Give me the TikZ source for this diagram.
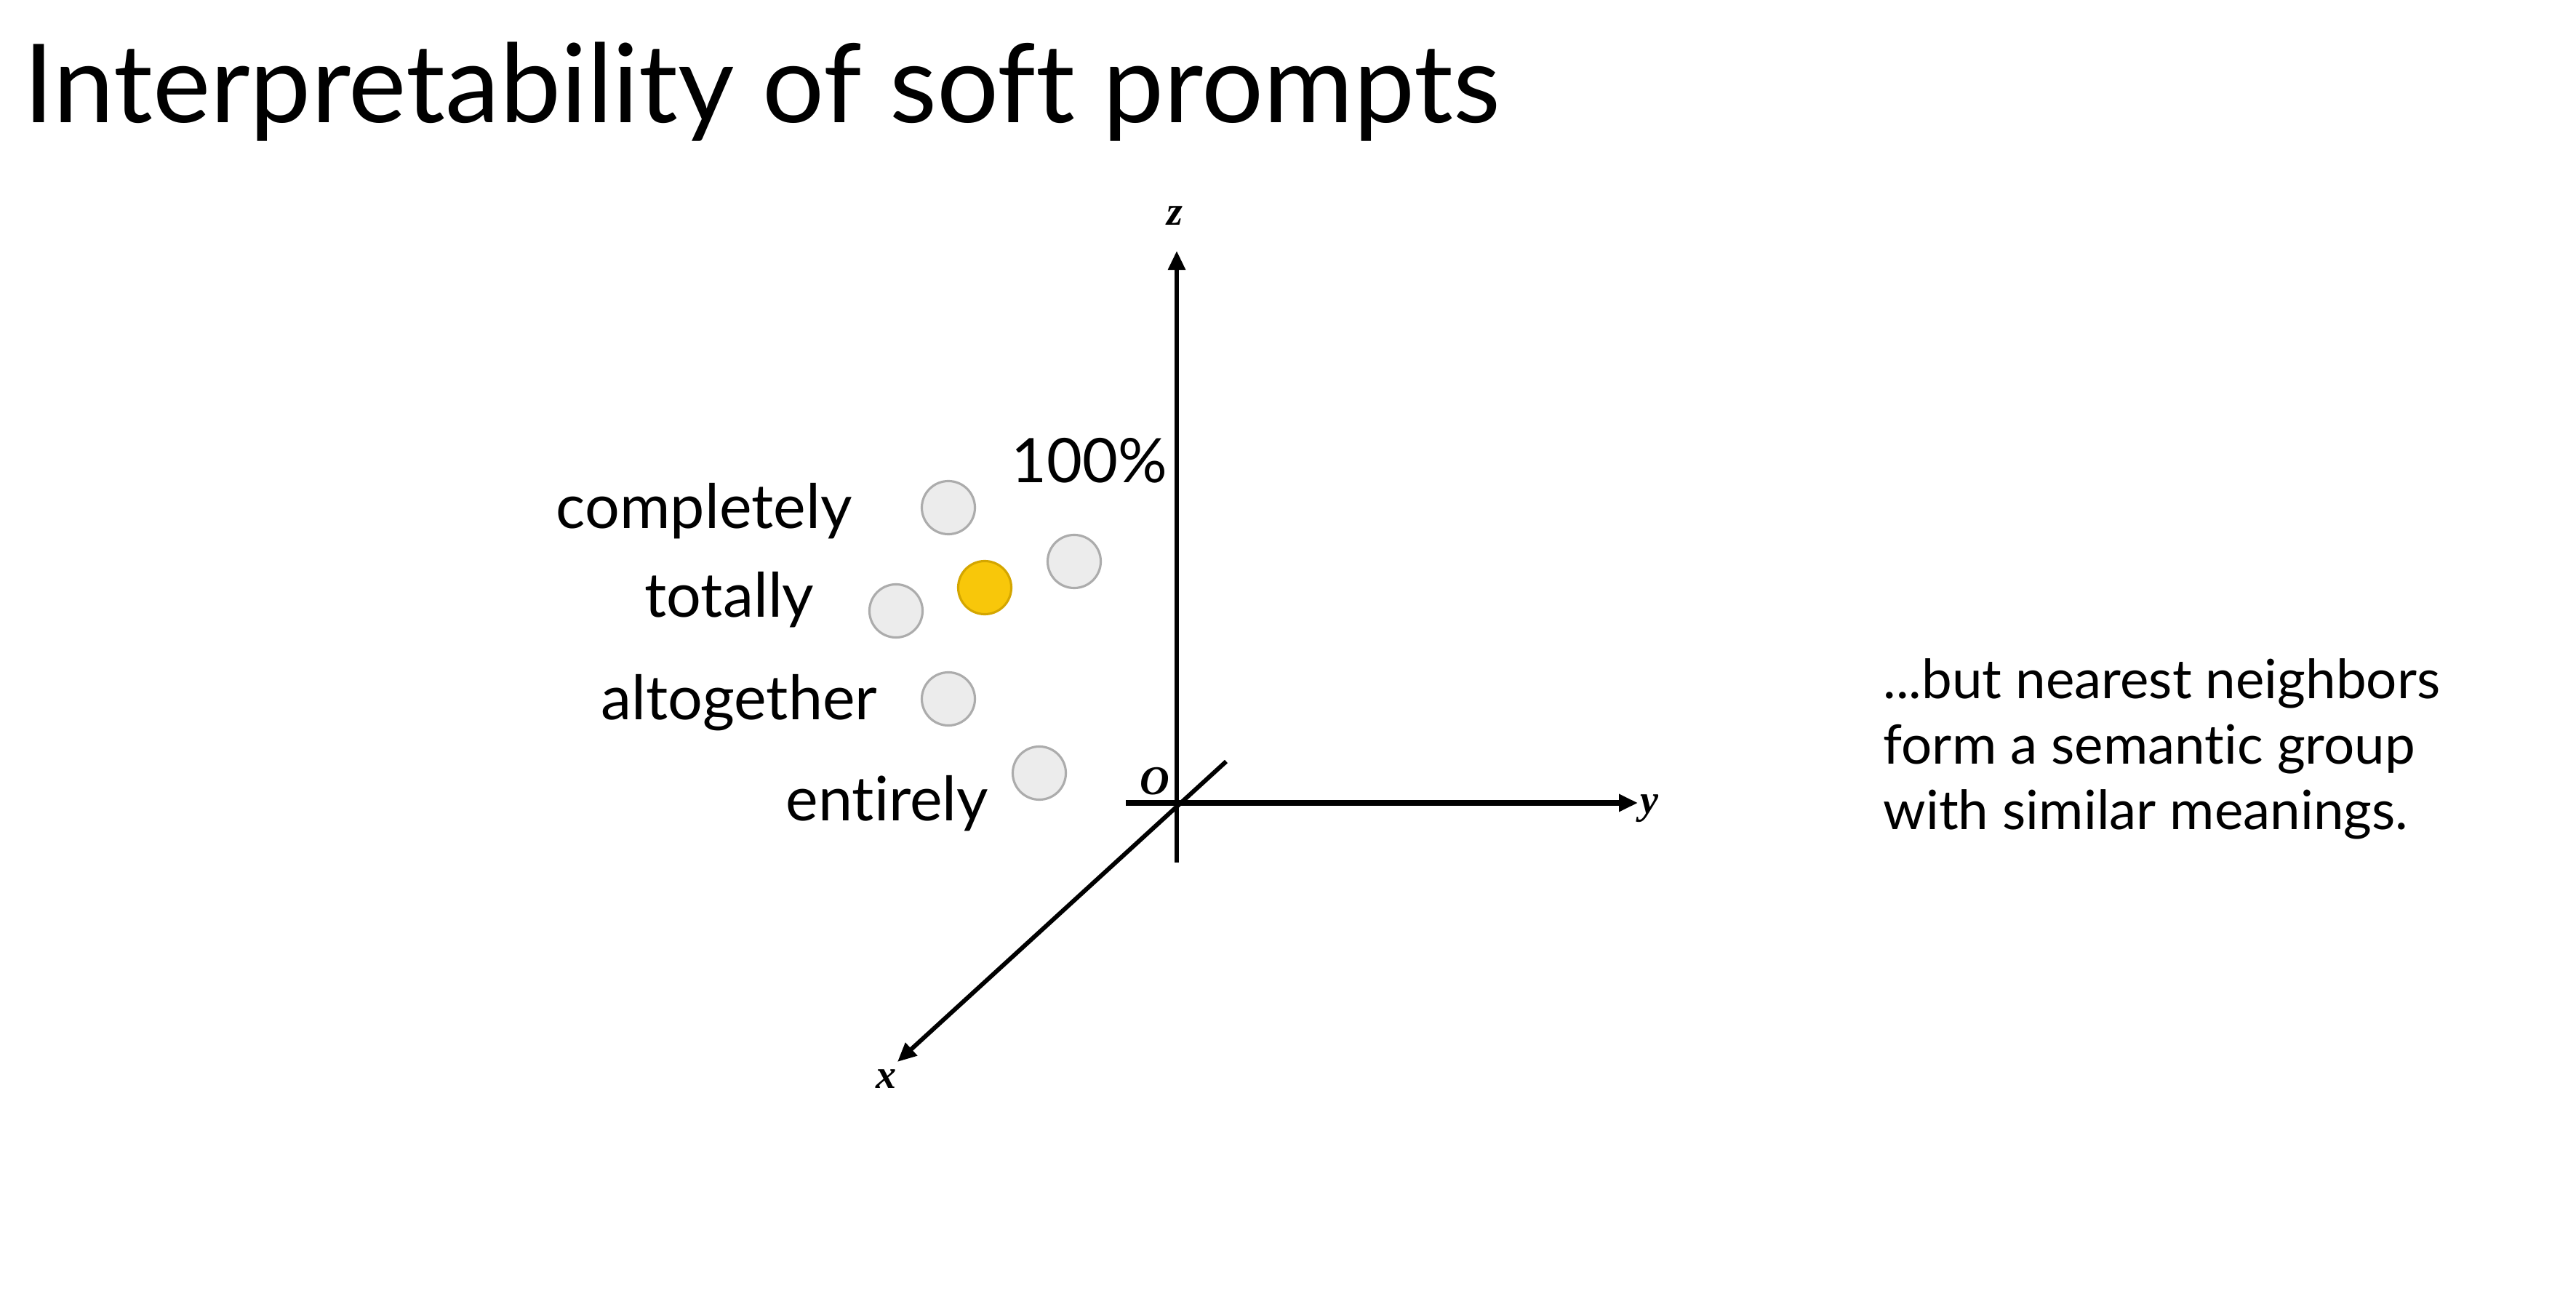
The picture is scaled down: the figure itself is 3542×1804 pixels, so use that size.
\documentclass[tikz,border=0pt]{standalone}
\usepackage{fontspec}
\setmainfont{Lato}[Ligatures=NoCommon]
\newfontfamily\axisfont{Liberation Serif}
\usetikzlibrary{arrows.meta}
\definecolor{dotgray}{RGB}{236,236,236}
\definecolor{dotedge}{RGB}{172,172,172}
\definecolor{dotyellow}{RGB}{248,199,10}
\definecolor{dotyedge}{RGB}{212,166,0}

\begin{document}
\begin{tikzpicture}[x=0.01cm,y=0.01cm,yscale=-1,xscale=1,
  word/.style={anchor=base east,inner sep=0pt,font=\fontsize{24}{29}\selectfont},
  dot/.style={circle,draw=dotedge,fill=dotgray,line width=0.9pt,minimum size=0.73cm,inner sep=0pt},
  axlabel/.style={inner sep=0pt,font=\axisfont\bfseries\itshape\fontsize{16}{19}\selectfont},
  axis/.style={line width=1.6pt,-{Triangle[length=0.26cm,width=0.23cm]}}]
%set diagram left start at 0, and has height of 1804
\path[fill=white] (0,0) rectangle (3542,1804);

% Text Node
\node (title) at (32,169) [anchor=base west,inner sep=0pt,font=\fontsize{42.7}{50}\selectfont] {Interpretability of soft prompts};

%Axes
\coordinate (orig) at (1618,1104);
\coordinate (ztop) at (1618,345);
\coordinate (zbot) at (1618,1186);
\coordinate (yleft) at (1548,1104);
\coordinate (ytip) at (2252,1104);
\coordinate (xback) at (1686,1047);
\coordinate (xtip) at (1234,1460);
\draw [axis] (zbot) -- (ztop) ;
\draw [axis,line width=2.2pt] (yleft) -- (ytip) ;
\draw [axis,line width=1.7pt] (xback) -- (xtip) ;

% Axis labels
\node (zlab) at (1615,297) [axlabel] {z};
\node (ylab) at (2268,1112) [axlabel] {y};
\node (xlab) at (1219,1484) [axlabel] {x};
\node (olab) at (1588,1074) [axlabel] {O};

%Shape: Circle
\node (dcomp) at (1304,698) [dot] {};
\node (dright) at (1477,772) [dot] {};
\node (dsoft) at (1354,808) [dot,fill=dotyellow,draw=dotyedge] {};
\node (dtot) at (1232,840) [dot] {};
\node (dalt) at (1304,961) [dot] {};
\node (dent) at (1429,1063) [dot] {};

% Text Node
\node (pct) at (1606,664) [word] {100\%};
\node (wcomp) at (1172,727) [word] {completely};
\node (wtot) at (1120,849) [word] {totally};
\node (walt) at (1207,990) [word] {altogether};
\node (went) at (1360,1128) [word] {entirely};

% Text Node
\node (note) at (2589,1140) [anchor=base west,inner sep=0pt,align=left,font=\fontsize{21.2}{25.5}\selectfont] {...but nearest neighbors\\form a semantic group\\with similar meanings.};

\end{tikzpicture}
\end{document}
